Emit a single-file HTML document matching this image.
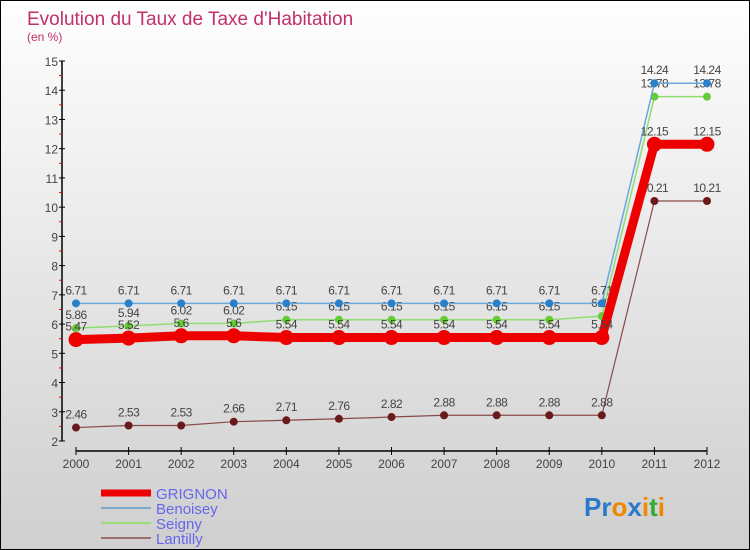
<!DOCTYPE html>
<html><head><meta charset="utf-8"><style>
body{margin:0;}
#wrap{width:748px;height:548px;border:1px solid #000;background:linear-gradient(#fefefe,#f0f0f0 30%,#d8d8d8 80%,#cfcfcf);position:relative;overflow:hidden;font-family:"Liberation Sans",sans-serif;}
svg{position:absolute;left:0;top:0;}
</style></head><body>
<div id="wrap">
<svg id="chart" width="750" height="550">
<text x="26" y="24" font-size="19" fill="#c0306a">Evolution du Taux de Taxe d'Habitation</text>
<text x="26" y="40" font-size="12" fill="#c0306a">(en %)</text>
</svg>
</div>
<script>
const years=["2000","2001","2002","2003","2004","2005","2006","2007","2008","2009","2010","2011","2012"];
const yTicks=[2,3,4,5,6,7,8,9,10,11,12,13,14,15];
const grignon=[5.47,5.52,5.6,5.6,5.54,5.54,5.54,5.54,5.54,5.54,5.54,12.15,12.15];
const benoisey=[6.71,6.71,6.71,6.71,6.71,6.71,6.71,6.71,6.71,6.71,6.71,14.24,14.24];
const seigny=[5.86,5.94,6.02,6.02,6.15,6.15,6.15,6.15,6.15,6.15,6.27,13.78,13.78];
const lantilly=[2.46,2.53,2.53,2.66,2.71,2.76,2.82,2.88,2.88,2.88,2.88,10.21,10.21];
const svg=document.getElementById('chart');
const NS="http://www.w3.org/2000/svg";
const xs=i=>75+i*(706-75)/(years.length-1);
const ys=v=>440-(v-2)*(440-60)/13;
function mk(t,a,p){const e=document.createElementNS(NS,t);for(const k in a)e.setAttribute(k,a[k]);(p||svg).appendChild(e);return e;}
// y axis
let ax=mk('line',{x1:61,y1:60,x2:61,y2:440,stroke:'#000','stroke-width':1.5});


yTicks.forEach(v=>{
 mk('line',{x1:58,y1:ys(v),x2:64,y2:ys(v),stroke:'#000'});
 if(v<15) mk('line',{x1:58,y1:ys(v+0.5),x2:61,y2:ys(v+0.5),stroke:'#f00'});
 const t=mk('text',{x:57,y:ys(v)+5,'text-anchor':'end','font-size':12,fill:'#444'});
 t.textContent=v;
 
 
});
let xa=mk('line',{x1:75,y1:450,x2:706,y2:450,stroke:'#000','stroke-width':1.5});


years.forEach((y,i)=>{
 mk('line',{x1:xs(i),y1:446,x2:xs(i),y2:454,stroke:'#000'});
 const t=mk('text',{x:xs(i),y:467,'text-anchor':'middle','font-size':12,fill:'#444'});
 t.textContent=y;
 
 
});
function series(name,data,color,w,r,dot){
 const g=mk('g',{});
 
 
 mk('polyline',{points:data.map((v,i)=>xs(i)+','+ys(v)).join(' '),fill:'none',stroke:color,'stroke-width':w,'stroke-linejoin':'round'},g);
 data.forEach((v,i)=>{
  const c=mk('circle',{cx:xs(i),cy:ys(v),r:r,fill:dot},g);
  
  
  const t=mk('text',{x:xs(i),y:ys(v)-9,'text-anchor':'middle','font-size':12,fill:'#444','letter-spacing':'-0.5'},g);
  t.textContent=String(v);
  
  
 });
}
series('lantilly',lantilly,'#8a4a4a',1.2,4,'#6a1a1a');
series('seigny',seigny,'#90dd70',1.5,4,'#66cc33');
series('benoisey',benoisey,'#6aa8dd',1.5,4,'#2a80c8');
series('grignon',grignon,'#ee0000',9,7.5,'#ee0000');
// legend
const leg=[['GRIGNON','#ee0000',7],['Benoisey','#7aaad0',2],['Seigny','#99dd77',2],['Lantilly','#9a7070',2]];
leg.forEach((l,i)=>{
 const y=492+i*15;
 const ln=mk('line',{x1:100,y1:y,x2:150,y2:y,stroke:l[1],'stroke-width':l[2]});
 
 
 const t=mk('text',{x:155,y:y+6,'font-size':15,fill:'#6666ee'});
 t.textContent=l[0];
 
 
});
const logo=mk('text',{x:583,y:515,'font-size':26,'font-weight':'bold'});


[['Pr','#2a7ac8'],['o','#ee8800'],['x','#2a7ac8'],['i','#ee8800'],['t','#33aa33'],['i','#ee8800']].forEach(p=>{const s=mk('tspan',{fill:p[1]},logo);s.textContent=p[0];});
</script>
</body></html>
